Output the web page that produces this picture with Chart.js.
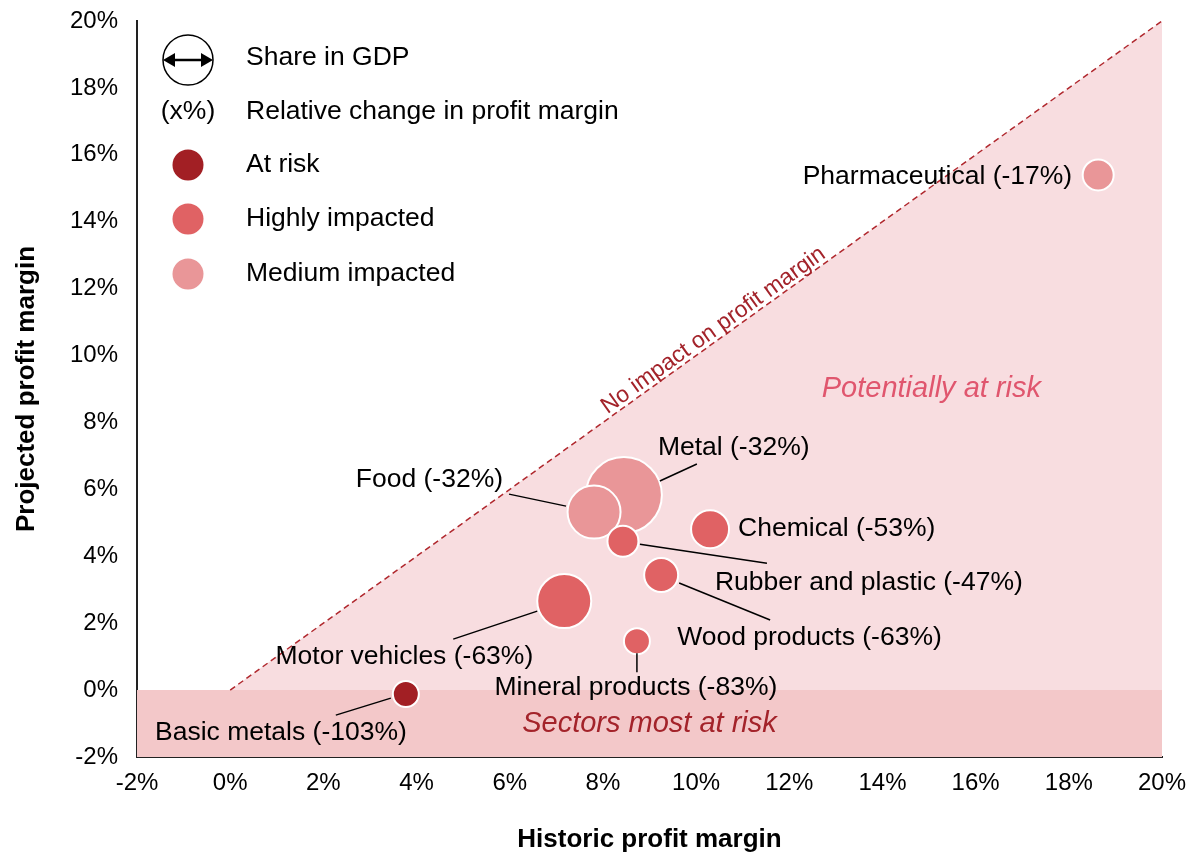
<!DOCTYPE html>
<html>
<head>
<meta charset="utf-8">
<script src="https://cdn.jsdelivr.net/npm/chart.js@4.4.0/dist/chart.umd.min.js"></script>
<style>
  body { margin: 0; background: #fff; }
  #wrap { width: 1191px; height: 855px; }
</style>
</head>
<body>
<div id="wrap"><canvas id="chart" width="1191" height="855"></canvas></div>
<script>
// sectors and their values (% profit margin)
var sectors = ['Pharmaceutical', 'Metal', 'Food', 'Chemical', 'Rubber and plastic',
               'Wood products', 'Mineral products', 'Motor vehicles', 'Basic metals'];
var historic  = [18.63, 8.45, 7.81, 10.30, 8.43, 9.25, 8.73, 7.17, 3.77];
var projected = [15.40, 5.83, 5.32, 4.81, 4.45, 3.44, 1.46, 2.66, -0.12];
var change    = [-17, -32, -32, -53, -47, -63, -83, -63, -103];
// share in GDP, shown as bubble radius
var gdpShare  = [15.5, 38, 26.5, 19, 15.5, 17, 13, 27, 13];
var impact    = ['medium', 'medium', 'medium', 'highly', 'highly', 'highly', 'highly', 'highly', 'atRisk'];
var axisTicks = [-2, 0, 2, 4, 6, 8, 10, 12, 14, 16, 18, 20];

var colors = { atRisk: '#a21f24', highly: '#e06264', medium: '#e99698' };
var FONT = "'Liberation Sans', Arial, sans-serif";
Chart.defaults.font.family = FONT;

function bubbles(cat) {
  var pts = [];
  for (var i = 0; i < sectors.length; i++) {
    if (impact[i] === cat) pts.push({ x: historic[i], y: projected[i], r: gdpShare[i], i: i });
  }
  return pts;
}

// label placement, offsets in px from bubble centre
var labelPos = [
  { dx: -26, dy: 2, align: 'right' },
  { dx: 34, dy: -47, align: 'left', line: [36, -14, 73, -31] },
  { dx: -91, dy: -32, align: 'right', line: [-85, -18, -28, -6] },
  { dx: 28, dy: 0, align: 'left' },
  { dx: 92, dy: 41, align: 'left', line: [17, 3, 144, 22] },
  { dx: 16, dy: 63, align: 'left', line: [18, 8, 109, 45] },
  { dx: -1, dy: 46, align: 'center', line: [0, 12, 0, 31] },
  { dx: -31, dy: 56, align: 'right', line: [-111, 38, -27, 10] },
  { dx: 1, dy: 39, align: 'right', line: [-70, 21, -15, 4] }
];

var annotations = {
  id: 'annotations',
  afterDatasetsDraw: function(chart) {
    var ctx = chart.ctx, xs = chart.scales.x, ys = chart.scales.y;
    ctx.save();
    // leader lines + labels
    ctx.strokeStyle = '#000';
    ctx.lineWidth = 1.5;
    ctx.fillStyle = '#000';
    ctx.font = '26.5px ' + FONT;
    ctx.textBaseline = 'middle';
    for (var i = 0; i < sectors.length; i++) {
      var cx = xs.getPixelForValue(historic[i]), cy = ys.getPixelForValue(projected[i]);
      var p = labelPos[i];
      if (p.line) {
        ctx.beginPath();
        ctx.moveTo(cx + p.line[0], cy + p.line[1]);
        ctx.lineTo(cx + p.line[2], cy + p.line[3]);
        ctx.stroke();
      }
      ctx.textAlign = p.align;
      ctx.fillText(sectors[i] + ' (' + change[i] + '%)', cx + p.dx, cy + p.dy);
    }

    // zone labels
    ctx.font = 'italic 29px ' + FONT;
    ctx.textAlign = 'center';
    ctx.fillStyle = '#e0566e';
    ctx.fillText('Potentially at risk', xs.getPixelForValue(15.05), ys.getPixelForValue(9));
    ctx.fillStyle = '#a3232a';
    ctx.fillText('Sectors most at risk', xs.getPixelForValue(9), ys.getPixelForValue(-1));

    // diagonal label
    var x0 = xs.getPixelForValue(0), y0 = ys.getPixelForValue(0);
    var x1 = xs.getPixelForValue(20), y1 = ys.getPixelForValue(20);
    var ang = Math.atan2(y1 - y0, x1 - x0);
    ctx.translate(xs.getPixelForValue(10.5), ys.getPixelForValue(10.5));
    ctx.rotate(ang);
    ctx.font = '23px ' + FONT;
    ctx.fillStyle = '#a3232a';
    ctx.textBaseline = 'alphabetic';
    ctx.fillText('No impact on profit margin', 0, -4);
    ctx.restore();

    // legend
    ctx.save();
    var lx = 188, tx = 246;
    ctx.strokeStyle = '#000';
    ctx.fillStyle = '#000';
    ctx.lineWidth = 1.5;
    ctx.beginPath();
    ctx.arc(lx, 60, 25, 0, Math.PI * 2);
    ctx.stroke();
    ctx.lineWidth = 2.5;
    ctx.beginPath();
    ctx.moveTo(lx - 16, 60);
    ctx.lineTo(lx + 16, 60);
    ctx.stroke();
    [-1, 1].forEach(function(s) {
      ctx.beginPath();
      ctx.moveTo(lx + s * 25, 60);
      ctx.lineTo(lx + s * 13, 53);
      ctx.lineTo(lx + s * 13, 67);
      ctx.closePath();
      ctx.fill();
    });
    ctx.font = '26.5px ' + FONT;
    ctx.textBaseline = 'middle';
    ctx.textAlign = 'center';
    ctx.fillText('(x%)', lx, 112);
    ctx.textAlign = 'left';
    ctx.fillText('Share in GDP', tx, 58);
    ctx.fillText('Relative change in profit margin', tx, 112);
    var items = [['At risk', colors.atRisk, 165], ['Highly impacted', colors.highly, 219], ['Medium impacted', colors.medium, 274]];
    items.forEach(function(it) {
      ctx.fillStyle = it[1];
      ctx.beginPath();
      ctx.arc(lx, it[2], 15.5, 0, Math.PI * 2);
      ctx.fill();
      ctx.fillStyle = '#000';
      ctx.fillText(it[0], tx, it[2]);
    });
    ctx.restore();
  }
};

function bubbleSet(cat) {
  return {
    type: 'bubble',
    data: bubbles(cat),
    backgroundColor: colors[cat],
    borderColor: '#fff',
    borderWidth: 2
  };
}

new Chart(document.getElementById('chart'), {
  type: 'bubble',
  data: {
    datasets: [
      bubbleSet('atRisk'),
      bubbleSet('highly'),
      bubbleSet('medium'),
      {
        type: 'line',
        data: [{ x: 0, y: 0 }, { x: 20, y: 20 }],
        borderColor: '#b0282e',
        borderWidth: 1.5,
        borderDash: [6, 4],
        pointRadius: 0,
        fill: { value: 0 },
        backgroundColor: '#f8dde0'
      },
      {
        type: 'line',
        data: [{ x: -2, y: 0 }, { x: 20, y: 0 }],
        borderWidth: 0,
        borderColor: 'rgba(0,0,0,0)',
        pointRadius: 0,
        fill: 'start',
        backgroundColor: '#f3c8c9'
      }
    ]
  },
  plugins: [annotations],
  options: {
    responsive: false,
    animation: false,
    events: [],
    layout: { autoPadding: false, padding: { top: 21, right: 29, left: 0, bottom: 0 } },
    plugins: { legend: { display: false }, tooltip: { enabled: false } },
    scales: {
      x: {
        type: 'linear',
        min: axisTicks[0],
        max: axisTicks[axisTicks.length - 1],
        afterBuildTicks: function(s) { s.ticks = axisTicks.map(function(v) { return { value: v }; }); },
        afterFit: function(s) { s.height = 98; s.paddingLeft = 0; s.paddingRight = 0; },
        grid: { display: false, drawTicks: false },
        border: { display: true, color: '#222', width: 2 },
        ticks: { color: '#000', font: { size: 24 }, padding: 12, maxRotation: 0,
                 callback: function(v) { return v + '%'; } },
        title: { display: true, text: 'Historic profit margin', color: '#000',
                 font: { size: 26, weight: 'bold' }, padding: { top: 0, bottom: 0 } }
      },
      y: {
        type: 'linear',
        min: axisTicks[0],
        max: axisTicks[axisTicks.length - 1],
        afterBuildTicks: function(s) { s.ticks = axisTicks.map(function(v) { return { value: v }; }); },
        afterFit: function(s) { s.width = 137; s.paddingTop = 0; s.paddingBottom = 0; },
        grid: { display: false, drawTicks: false },
        border: { display: true, color: '#222', width: 2 },
        ticks: { color: '#000', font: { size: 24 }, padding: 19,
                 callback: function(v) { return v + '%'; } },
        title: { display: true, text: 'Projected profit margin', color: '#000',
                 font: { size: 26, weight: 'bold' }, padding: { top: 11, bottom: 0 } }
      }
    }
  }
});
</script>
</body>
</html>
